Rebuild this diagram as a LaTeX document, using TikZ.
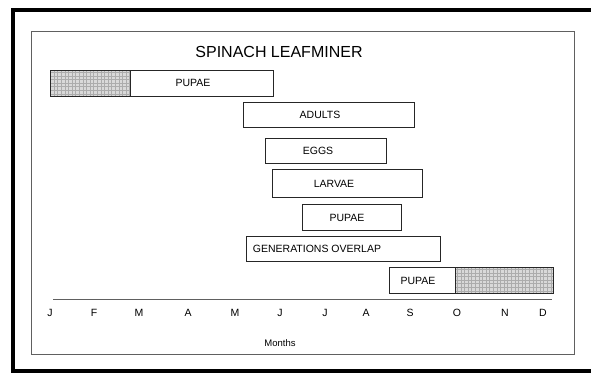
\documentclass[tikz,border=0pt]{standalone}
\usepackage{fontspec}
\setmainfont{Liberation Sans}
\begin{document}
\begin{tikzpicture}[x=1pt,y=-1pt,
  bar/.style={draw=black!85,line width=0.9pt,rectangle,inner sep=0pt,fill=white},
  hatchbar/.style={draw=black!85,line width=0.9pt,rectangle,inner sep=0pt,fill=gray!30,
    path picture={\draw[gray!65,line width=0.45pt,step=3.6pt] (path picture bounding box.south west) grid (path picture bounding box.north east);}},
  lbl/.style={font=\fontsize{10.5}{12}\selectfont,inner sep=0pt},
  month/.style={font=\fontsize{10.5}{12}\selectfont,inner sep=0pt,anchor=center}]
\useasboundingbox (0,0) rectangle (591,373);
\begin{scope}
\clip (0,0) rectangle (591,373);
\draw[line width=4pt] (13,9.5) rectangle (600,371);
\end{scope}
\draw[gray!75!black,line width=0.9pt] (31,31) rectangle (574,354);
\node[font=\fontsize{16}{19}\selectfont,inner sep=0pt] (title) at (279,52) {SPINACH LEAFMINER};
% row 1
\node[bar,minimum width=143pt,minimum height=26pt] (p1) at (201.5,83) {};
\node[hatchbar,minimum width=80pt,minimum height=26pt] (h1) at (90,83) {};
\node[lbl] (p1t) at (193,83) {PUPAE};
% adults
\node[bar,minimum width=171pt,minimum height=25pt] (ad) at (328.5,114.5) {};
\node[lbl] (adt) at (320,114.5) {ADULTS};
% eggs
\node[bar,minimum width=121pt,minimum height=25pt] (eg) at (325.5,150.5) {};
\node[lbl] (egt) at (318,151) {EGGS};
% larvae
\node[bar,minimum width=150pt,minimum height=28pt] (la) at (347,183) {};
\node[lbl] (lat) at (334,184) {LARVAE};
% pupae 2
\node[bar,minimum width=99pt,minimum height=26pt] (p2) at (351.5,217) {};
\node[lbl] (p2t) at (347,218) {PUPAE};
% generations overlap
\node[bar,minimum width=194pt,minimum height=25pt] (go) at (343,248.5) {};
\node[lbl] (got) at (317,249) {GENERATIONS OVERLAP};
% pupae 3
\node[bar,minimum width=66pt,minimum height=26pt] (p3) at (422,280) {};
\node[hatchbar,minimum width=98pt,minimum height=26pt] (h3) at (504,280) {};
\node[lbl] (p3t) at (418,281) {PUPAE};
% axis
\coordinate (ax1) at (53,299);
\coordinate (ax2) at (552,299);
\draw[gray!75!black,line width=0.9pt] (ax1) -- (ax2);
\foreach \m/\x [count=\i] in {J/50,F/94,M/139,A/188,M/235,J/280,J/325,A/366,S/410,O/457,N/505,D/543}
  \node[month] (m\i) at (\x,313) {\m};
\node[lbl,font=\fontsize{9.5}{11}\selectfont] (months) at (280,343) {Months};
\end{tikzpicture}
\end{document}
